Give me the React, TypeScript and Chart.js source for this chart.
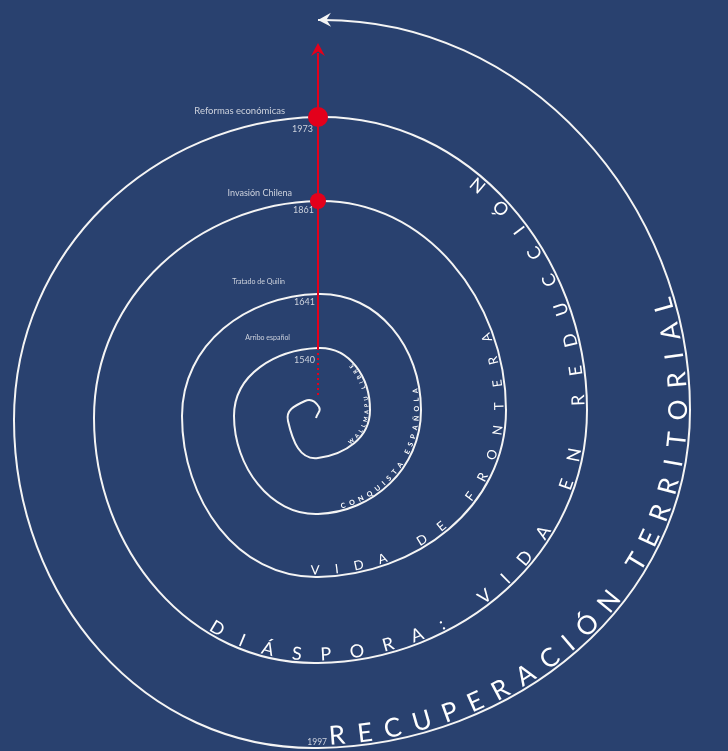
import React, { useEffect, useRef } from 'react';
import { Chart, registerables } from 'chart.js';

Chart.register(...registerables);

// ---------------- DATA ----------------
// Spiral guide points (data units, origin = centre of spiral, y up), counter-clockwise outward.
const spiralX = [-2, 1, -13, -30, 0, 52, 0, -84, 0, 103, 0, -136, 0, 188, 0, -224, 0, 269, 0, -304, 0, 372, 0, -410];
const spiralY = [-8, 3, 9, -11, -48, 0, 62, -6, -104, 0, 116, -6, -167, 0, 209, -8, -253, 0, 293, -10, -338, 0, 390, -12];

// Events on the timeline
const eventYears = ['1540', '1641', '1861', '1973', '1997'];
const eventNames = ['Arribo español', 'Tratado de Quilín', 'Invasión Chilena', 'Reformas económicas', ''];
const eventPointIndex = [6, 10, 14, 18, 20];
const eventDot = [false, false, true, true, false];

// Eras written along the spiral (start / end position as index along spiral)
const eraLabels = ['WALLMAPU LIBRE', 'CONQUISTA ESPAÑOLA', 'VIDA DE FRONTERA', 'DIÁSPORA: VIDA EN REDUCCIÓN', 'RECUPERACIÓN TERRITORIAL'];
const eraStart = [4.45, 8.15, 11.97, 15.68, 20.02];
const eraEnd = [5.55, 9.12, 13.25, 17.6, 21.19];

// ---------------- STYLE / LAYOUT ----------------
const BG = '#29416F';
const RED = '#E3001B';
const WHITE = '#F4F4F4';
const LABEL = '#CDD2DD';
const FONT = 'Lato, "Noto Sans", "DejaVu Sans", sans-serif';
const W = 728;
const H = 751;
const X_MIN = -318;
const X_MAX = 410;
const Y_MIN = -341;
const Y_MAX = 410;

const eraFontSize = [5.5, 7, 13, 18, 26];
const eraWeight = ['bold', 'bold', 'normal', 'normal', 'normal'];
const eraOffset = [1.5, 2, 2.5, 2.5, 3];

const dotRadius = [0, 0, 8, 10, 0];
const nameSize = [7, 7, 9, 9.5, 9];
const nameDx = [-28, -33, -26, -33, 0];
const nameDy = [-10, -12, -8, -6, 0];
const yearSize = [9, 9, 9, 9, 8.5];
const yearDx = [-3, -3, -4, -5, 9];
const yearDy = [12, 8, 9, 12, -6];

const RED_RISE = 74; // arrow tip above the last dotted event
const RED_DROP = 50; // dotted part below the first event
const ARROW_LEN = 13;
const ARROW_HALF = 7;

const SPIRAL_DS = 3;

function drawArrow(ctx: CanvasRenderingContext2D, tx: number, ty: number, dx: number, dy: number, color: string) {
  const len = Math.hypot(dx, dy) || 1;
  dx /= len; dy /= len;
  const nx = -dy, ny = dx;
  ctx.save();
  ctx.fillStyle = color;
  ctx.beginPath();
  ctx.moveTo(tx, ty);
  ctx.lineTo(tx - dx * ARROW_LEN + nx * ARROW_HALF, ty - dy * ARROW_LEN + ny * ARROW_HALF);
  ctx.lineTo(tx - dx * ARROW_LEN * 0.65, ty - dy * ARROW_LEN * 0.65);
  ctx.lineTo(tx - dx * ARROW_LEN - nx * ARROW_HALF, ty - dy * ARROW_LEN - ny * ARROW_HALF);
  ctx.closePath();
  ctx.fill();
  ctx.restore();
}

export default function App() {
  const ref = useRef<HTMLCanvasElement>(null);

  useEffect(() => {
    const canvas = ref.current;
    if (!canvas) return;

    const spiralPts = spiralX.map((x, i) => ({ x, y: spiralY[i] }));
    const lastIdx = spiralPts.length - 1;
    const evPts = eventPointIndex.map((i) => spiralPts[i]);
    const dotPts = evPts.filter((_, i) => eventDot[i]);
    const dotR = dotRadius.filter((_, i) => eventDot[i]);
    const first = evPts[0];
    const topEv = evPts[3];
    const redTipY = topEv.y + RED_RISE;
    const redSolid = [
      { x: first.x, y: first.y },
      { x: first.x, y: redTipY - ARROW_LEN + 3 },
    ];
    const redDotted = [
      { x: first.x, y: first.y },
      { x: first.x, y: first.y - RED_DROP },
    ];

    const bgPlugin = {
      id: 'bg',
      beforeDraw(chart: any) {
        const c = chart.ctx;
        c.save();
        c.fillStyle = BG;
        c.fillRect(0, 0, chart.width, chart.height);
        c.restore();
      },
    };

    const overlay = {
      id: 'overlay',
      afterDatasetsDraw(chart: any) {
        const ctx: CanvasRenderingContext2D = chart.ctx;
        const xs = chart.scales.x;
        const ys = chart.scales.y;
        const meta = chart.getDatasetMeta(SPIRAL_DS);
        if (meta.dataset && meta.dataset.updateControlPoints) {
          meta.dataset.updateControlPoints(chart.chartArea, 'x');
        }
        const pts: any[] = meta.data;

        // sample the drawn bezier spiral
        const samples: { x: number; y: number; s: number; f: number }[] = [];
        const N = 60;
        let s = 0;
        let px = 0, py = 0;
        for (let i = 0; i < pts.length - 1; i++) {
          const a = pts[i], b = pts[i + 1];
          const c1x = a.cp2x ?? a.x, c1y = a.cp2y ?? a.y;
          const c2x = b.cp1x ?? b.x, c2y = b.cp1y ?? b.y;
          for (let k = 0; k <= N; k++) {
            if (i > 0 && k === 0) continue;
            const t = k / N, u = 1 - t;
            const x = u * u * u * a.x + 3 * u * u * t * c1x + 3 * u * t * t * c2x + t * t * t * b.x;
            const y = u * u * u * a.y + 3 * u * u * t * c1y + 3 * u * t * t * c2y + t * t * t * b.y;
            if (samples.length) s += Math.hypot(x - px, y - py);
            samples.push({ x, y, s, f: i + t });
            px = x; py = y;
          }
        }
        const sAtF = (f: number) => {
          for (let i = 1; i < samples.length; i++) {
            if (samples[i].f >= f) {
              const p = samples[i - 1], q = samples[i];
              const r = (f - p.f) / (q.f - p.f || 1);
              return p.s + r * (q.s - p.s);
            }
          }
          return samples[samples.length - 1].s;
        };
        const posAtS = (sv: number) => {
          let i = 1;
          while (i < samples.length - 1 && samples[i].s < sv) i++;
          const p = samples[i - 1], q = samples[i];
          const r = (sv - p.s) / (q.s - p.s || 1);
          return { x: p.x + r * (q.x - p.x), y: p.y + r * (q.y - p.y), a: Math.atan2(q.y - p.y, q.x - p.x) };
        };

        // curved era texts
        ctx.save();
        ctx.fillStyle = '#FFFFFF';
        ctx.textAlign = 'center';
        ctx.textBaseline = 'alphabetic';
        eraLabels.forEach((txt, k) => {
          ctx.font = `${eraWeight[k]} ${eraFontSize[k]}px ${FONT}`;
          const s0 = sAtF(eraStart[k]);
          const s1 = sAtF(eraEnd[k]);
          const chars = Array.from(txt);
          const widths = chars.map((c) => ctx.measureText(c).width);
          const total = widths.reduce((m, v) => m + v, 0);
          const gap = chars.length > 1 ? (s1 - s0 - total) / (chars.length - 1) : 0;
          let cur = s0;
          chars.forEach((c, i) => {
            const p = posAtS(cur + widths[i] / 2);
            ctx.save();
            ctx.translate(p.x, p.y);
            ctx.rotate(p.a);
            ctx.fillText(c, 0, -eraOffset[k]);
            ctx.restore();
            cur += widths[i] + gap;
          });
        });
        ctx.restore();

        // white arrow at spiral end
        const end = pts[lastIdx - 1];
        drawArrow(ctx, end.x, end.y, end.x - (end.cp1x ?? end.x - 1), end.y - (end.cp1y ?? end.y), WHITE);

        // red arrow
        drawArrow(ctx, xs.getPixelForValue(first.x), ys.getPixelForValue(redTipY), 0, -1, RED);

        // event labels
        ctx.save();
        ctx.fillStyle = LABEL;
        ctx.textAlign = 'right';
        ctx.textBaseline = 'middle';
        evPts.forEach((p, i) => {
          const x = xs.getPixelForValue(p.x);
          const y = ys.getPixelForValue(p.y);
          if (eventNames[i]) {
            ctx.font = `${nameSize[i]}px ${FONT}`;
            ctx.fillText(eventNames[i], x + nameDx[i], y + nameDy[i]);
          }
          ctx.font = `${yearSize[i]}px ${FONT}`;
          ctx.fillText(eventYears[i], x + yearDx[i], y + yearDy[i]);
        });
        ctx.restore();
      },
    };

    const chart = new Chart(canvas, {
      type: 'scatter',
      data: {
        datasets: [
          {
            data: dotPts,
            showLine: false,
            pointRadius: dotR,
            pointBackgroundColor: RED,
            pointBorderWidth: 0,
            order: 0,
          } as any,
          {
            data: redSolid,
            showLine: true,
            borderColor: RED,
            borderWidth: 2,
            pointRadius: 0,
            order: 1,
          },
          {
            data: redDotted,
            showLine: true,
            borderColor: RED,
            borderWidth: 2,
            borderDash: [2, 3],
            pointRadius: 0,
            order: 1,
          },
          {
            data: spiralPts,
            showLine: true,
            borderColor: WHITE,
            borderWidth: 2,
            tension: 0.55,
            pointRadius: 0,
            clip: false,
            order: 3,
            segment: {
              borderColor: (c: any) => (c.p1DataIndex === lastIdx ? 'rgba(0,0,0,0)' : undefined),
            },
          } as any,
        ],
      },
      options: {
        animation: false,
        responsive: false,
        events: [],
        layout: { padding: 0, autoPadding: false } as any,
        elements: { line: { capBezierPoints: false } as any },
        plugins: { legend: { display: false }, tooltip: { enabled: false } },
        scales: {
          x: { type: 'linear', display: false, min: X_MIN, max: X_MAX },
          y: { type: 'linear', display: false, min: Y_MIN, max: Y_MAX },
        },
      },
      plugins: [bgPlugin, overlay],
    });

    return () => chart.destroy();
  }, []);

  return (
    <div style={{ position: 'fixed', left: 0, top: 0, width: W, height: H, background: BG, overflow: 'hidden' }}>
      <canvas ref={ref} width={W} height={H} style={{ display: 'block', width: W, height: H }} />
    </div>
  );
}
